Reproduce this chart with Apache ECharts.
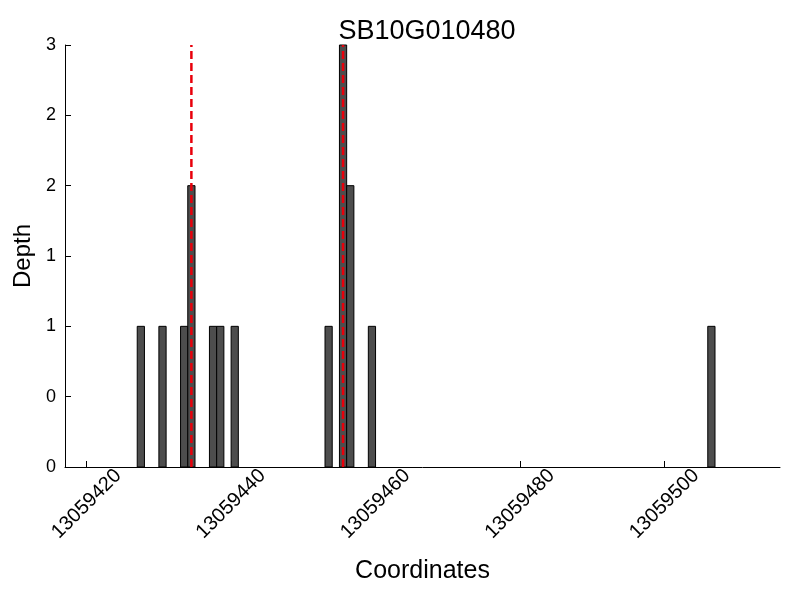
<!DOCTYPE html>
<html>
<head>
<meta charset="utf-8">
<script src="https://cdn.jsdelivr.net/npm/echarts@6/dist/echarts.min.js"></script>
<style>html,body{margin:0;padding:0;background:#fff;}#c{width:800px;height:600px;}</style>
</head>
<body>
<div id="c"></div>
<script>
// Data
var titleText = 'SB10G010480';
var positions = [13059427, 13059430, 13059433, 13059434, 13059437, 13059438, 13059440, 13059453, 13059455, 13059456, 13059459, 13059506];
var depths    = [1, 1, 1, 2, 1, 1, 1, 1, 3, 2, 1, 1];
var markers   = [13059434.5, 13059455.5];
var xTicks    = [13059420, 13059440, 13059460, 13059480, 13059500];
var xRange    = [13059417, 13059516];
var yRange    = [0, 3];
var yStep     = 0.5;

var FONT = 'Liberation Sans';
var barData = positions.map(function (p, i) { return [p, depths[i]]; });
var markerData = [];
markers.forEach(function (m) { markerData.push([m, yRange[0]], [m, yRange[1]], null); });

var chart = echarts.init(document.getElementById('c'), null, {renderer: 'canvas'});
chart.setOption({
  animation: false,
  backgroundColor: '#fff',
  title: {
    text: titleText, left: 422, top: 13, textAlign: 'center',
    textStyle: {fontFamily: FONT, fontSize: 27, fontWeight: 'normal', color: '#000'}
  },
  grid: {left: 65, right: 20, top: 45, bottom: 133},
  xAxis: {
    type: 'value', min: xRange[0], max: xRange[1],
    name: 'Coordinates', nameLocation: 'middle', nameGap: 92,
    nameTextStyle: {fontFamily: FONT, fontSize: 25, color: '#000'},
    axisLine: {show: true, onZero: false, lineStyle: {color: '#000', width: 1}},
    axisTick: {show: true, inside: true, length: 6, customValues: xTicks, lineStyle: {color: '#000'}},
    axisLabel: {
      customValues: xTicks, rotate: 45, align: 'center', verticalAlign: 'middle', margin: 37,
      fontFamily: FONT, fontSize: 20, color: '#000',
      formatter: function (v) { return String(v); }
    },
    splitLine: {show: false}
  },
  yAxis: {
    type: 'value', min: yRange[0], max: yRange[1], interval: yStep,
    name: 'Depth', nameLocation: 'middle', nameGap: 28,
    nameTextStyle: {fontFamily: FONT, fontSize: 24, color: '#000'},
    axisLine: {show: true, lineStyle: {color: '#000', width: 1}},
    axisTick: {show: true, inside: true, length: 6, lineStyle: {color: '#000'}},
    axisLabel: {
      fontFamily: FONT, fontSize: 18, color: '#000', margin: 9,
      formatter: function (v) { return String(Math.floor(v)); }
    },
    splitLine: {show: false}
  },
  series: [
    {
      type: 'custom',
      data: barData,
      renderItem: function (params, api) {
        var x = api.value(0), y = api.value(1);
        var p0 = api.coord([x, 0]);
        var p1 = api.coord([x + 1, y]);
        return {
          type: 'rect',
          shape: {x: p0[0], y: p1[1], width: p1[0] - p0[0], height: p0[1] - p1[1]},
          style: {fill: '#4d4d4d', stroke: '#000', lineWidth: 1}
        };
      },
      z: 2
    },
    {
      type: 'line',
      data: markerData,
      showSymbol: false,
      connectNulls: false,
      lineStyle: {color: '#e8000b', width: 2.5, type: [8, 4]},
      z: 5
    }
  ]
});
</script>
</body>
</html>
